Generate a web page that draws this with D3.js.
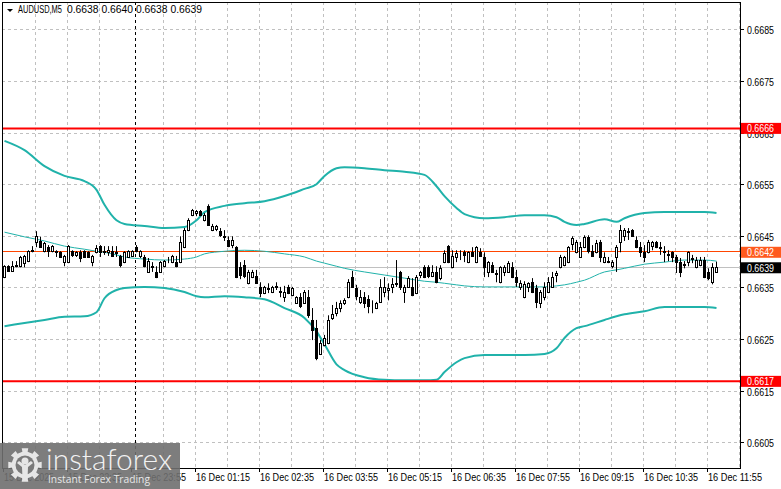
<!DOCTYPE html>
<html><head><meta charset="utf-8">
<script src="https://cdn.jsdelivr.net/npm/d3@7"></script>
<style>body{margin:0;background:#fff;}svg{display:block;font-family:"Liberation Sans",Arial,sans-serif;}</style>
</head><body><svg id="c" width="781" height="489"></svg>
<script>
// ---- data ----
const symbolTitle = "AUDUSD,M5";
const titleQuote = "0.6638 0.6640 0.6638 0.6639";
const xTickBars = [0,16,32,48,64,80,96,112,128,144,160,176];
const xTickLabels = ["15 Dec 2025","15 Dec 22:35","15 Dec 23:55","16 Dec 01:15","16 Dec 02:35","16 Dec 03:55","16 Dec 05:15","16 Dec 06:35","16 Dec 07:55","16 Dec 09:15","16 Dec 10:35","16 Dec 11:55"];
const daySeparatorBar = 33;
const yTicks = [0.6605,0.6615,0.6625,0.6635,0.6645,0.6655,0.6665,0.6675,0.6685];
const levelLines = [0.6666, 0.6617];
const askPrice = 0.6642;
const bidPrice = 0.6639;
// candles: [open, high, low, close]
const candles = [
[0.66370,0.66393,0.66368,0.66391],[0.66391,0.66393,0.66380,0.66382],[0.66382,0.66401,0.66380,0.66391],[0.66391,0.66401,0.66389,0.66393],
[0.66391,0.66411,0.66389,0.66409],[0.66397,0.66413,0.66389,0.66411],[0.66401,0.66422,0.66399,0.66420],[0.66420,0.66430,0.66418,0.66422],
[0.66438,0.66459,0.66428,0.66449],[0.66440,0.66448,0.66428,0.66428],[0.66420,0.66438,0.66418,0.66436],[0.66428,0.66432,0.66409,0.66420],
[0.66420,0.66432,0.66418,0.66430],[0.66420,0.66422,0.66409,0.66418],[0.66418,0.66420,0.66407,0.66409],[0.66399,0.66413,0.66391,0.66411],
[0.66399,0.66432,0.66397,0.66430],[0.66420,0.66422,0.66409,0.66413],[0.66413,0.66420,0.66409,0.66418],[0.66418,0.66422,0.66399,0.66407],
[0.66420,0.66422,0.66409,0.66409],[0.66418,0.66420,0.66407,0.66409],[0.66399,0.66413,0.66391,0.66411],[0.66418,0.66432,0.66416,0.66426],
[0.66430,0.66432,0.66409,0.66418],[0.66420,0.66430,0.66413,0.66418],[0.66418,0.66430,0.66411,0.66422],[0.66420,0.66430,0.66409,0.66411],
[0.66418,0.66430,0.66409,0.66416],[0.66411,0.66413,0.66389,0.66393],[0.66399,0.66420,0.66397,0.66418],[0.66409,0.66422,0.66407,0.66420],
[0.66411,0.66422,0.66409,0.66420],[0.66428,0.66432,0.66418,0.66420],[0.66411,0.66422,0.66407,0.66420],[0.66409,0.66413,0.66389,0.66391],
[0.66380,0.66407,0.66378,0.66401],[0.66391,0.66399,0.66380,0.66389],[0.66380,0.66391,0.66368,0.66370],[0.66380,0.66401,0.66378,0.66399],
[0.66391,0.66403,0.66389,0.66401],[0.66401,0.66409,0.66397,0.66401],[0.66399,0.66413,0.66397,0.66411],[0.66399,0.66411,0.66389,0.66391],
[0.66399,0.66449,0.66397,0.66438],[0.66428,0.66465,0.66426,0.66461],[0.66461,0.66484,0.66459,0.66480],[0.66490,0.66502,0.66488,0.66500],
[0.66494,0.66500,0.66488,0.66498],[0.66498,0.66500,0.66488,0.66490],[0.66480,0.66494,0.66478,0.66490],[0.66508,0.66511,0.66469,0.66471],
[0.66461,0.66473,0.66459,0.66469],[0.66463,0.66471,0.66459,0.66469],[0.66459,0.66465,0.66448,0.66451],[0.66449,0.66461,0.66440,0.66448],
[0.66442,0.66449,0.66428,0.66430],[0.66432,0.66449,0.66426,0.66442],[0.66428,0.66430,0.66368,0.66370],[0.66389,0.66399,0.66366,0.66374],
[0.66393,0.66403,0.66368,0.66372],[0.66358,0.66384,0.66356,0.66380],[0.66370,0.66384,0.66368,0.66380],[0.66372,0.66384,0.66358,0.66358],
[0.66351,0.66360,0.66331,0.66339],[0.66339,0.66353,0.66337,0.66351],[0.66347,0.66358,0.66339,0.66349],[0.66341,0.66353,0.66339,0.66351],
[0.66351,0.66360,0.66345,0.66353],[0.66343,0.66351,0.66331,0.66341],[0.66331,0.66353,0.66322,0.66341],[0.66351,0.66355,0.66337,0.66339],
[0.66335,0.66351,0.66333,0.66349],[0.66320,0.66333,0.66318,0.66331],[0.66331,0.66339,0.66310,0.66314],[0.66320,0.66345,0.66318,0.66341],
[0.66331,0.66345,0.66291,0.66296],[0.66287,0.66310,0.66248,0.66267],[0.66271,0.66287,0.66209,0.66213],[0.66221,0.66248,0.66219,0.66242],
[0.66238,0.66258,0.66236,0.66252],[0.66242,0.66296,0.66240,0.66287],[0.66291,0.66316,0.66287,0.66298],[0.66300,0.66322,0.66294,0.66310],
[0.66310,0.66325,0.66302,0.66320],[0.66320,0.66329,0.66316,0.66325],[0.66331,0.66366,0.66329,0.66360],[0.66370,0.66382,0.66349,0.66351],
[0.66349,0.66355,0.66325,0.66333],[0.66322,0.66345,0.66318,0.66331],[0.66331,0.66341,0.66310,0.66320],[0.66327,0.66335,0.66300,0.66314],
[0.66316,0.66325,0.66300,0.66315],[0.66310,0.66322,0.66308,0.66320],[0.66322,0.66366,0.66320,0.66351],[0.66341,0.66370,0.66331,0.66351],
[0.66345,0.66358,0.66325,0.66349],[0.66351,0.66368,0.66339,0.66356],[0.66358,0.66403,0.66351,0.66357],[0.66380,0.66382,0.66345,0.66351],
[0.66341,0.66355,0.66320,0.66351],[0.66351,0.66372,0.66349,0.66368],[0.66351,0.66368,0.66333,0.66335],[0.66339,0.66374,0.66337,0.66370],
[0.66374,0.66382,0.66368,0.66380],[0.66389,0.66393,0.66368,0.66370],[0.66389,0.66393,0.66368,0.66372],[0.66372,0.66393,0.66370,0.66380],
[0.66380,0.66391,0.66358,0.66360],[0.66368,0.66393,0.66364,0.66387],[0.66399,0.66422,0.66397,0.66416],[0.66430,0.66432,0.66397,0.66399],
[0.66389,0.66422,0.66387,0.66411],[0.66409,0.66422,0.66399,0.66416],[0.66413,0.66422,0.66403,0.66412],[0.66418,0.66422,0.66399,0.66413],
[0.66399,0.66420,0.66397,0.66418],[0.66418,0.66428,0.66409,0.66411],[0.66399,0.66430,0.66397,0.66428],[0.66418,0.66426,0.66409,0.66411],
[0.66409,0.66418,0.66370,0.66389],[0.66380,0.66401,0.66370,0.66399],[0.66393,0.66399,0.66378,0.66380],[0.66378,0.66384,0.66360,0.66376],
[0.66360,0.66391,0.66358,0.66389],[0.66380,0.66393,0.66372,0.66389],[0.66380,0.66401,0.66378,0.66397],[0.66389,0.66399,0.66368,0.66370],
[0.66370,0.66384,0.66351,0.66360],[0.66351,0.66364,0.66345,0.66358],[0.66331,0.66362,0.66329,0.66356],[0.66351,0.66360,0.66341,0.66358],
[0.66360,0.66368,0.66339,0.66341],[0.66349,0.66355,0.66310,0.66322],[0.66320,0.66345,0.66310,0.66341],[0.66331,0.66360,0.66325,0.66351],
[0.66341,0.66370,0.66339,0.66360],[0.66351,0.66380,0.66349,0.66370],[0.66374,0.66382,0.66360,0.66378],[0.66389,0.66413,0.66387,0.66409],
[0.66393,0.66411,0.66391,0.66409],[0.66399,0.66430,0.66397,0.66428],[0.66434,0.66449,0.66422,0.66446],[0.66418,0.66442,0.66416,0.66438],
[0.66409,0.66438,0.66407,0.66428],[0.66428,0.66451,0.66426,0.66448],[0.66448,0.66451,0.66416,0.66420],[0.66420,0.66432,0.66409,0.66411],
[0.66418,0.66442,0.66416,0.66436],[0.66438,0.66442,0.66399,0.66409],[0.66399,0.66418,0.66397,0.66409],[0.66401,0.66409,0.66397,0.66399],
[0.66391,0.66403,0.66387,0.66399],[0.66409,0.66432,0.66380,0.66428],[0.66438,0.66471,0.66418,0.66461],[0.66449,0.66465,0.66440,0.66461],
[0.66457,0.66465,0.66442,0.66459],[0.66461,0.66463,0.66448,0.66449],[0.66442,0.66449,0.66426,0.66428],[0.66428,0.66438,0.66409,0.66418],
[0.66418,0.66432,0.66399,0.66409],[0.66418,0.66442,0.66416,0.66438],[0.66430,0.66440,0.66422,0.66438],[0.66438,0.66440,0.66426,0.66428],
[0.66428,0.66438,0.66413,0.66426],[0.66420,0.66430,0.66399,0.66418],[0.66414,0.66422,0.66401,0.66413],[0.66418,0.66420,0.66399,0.66409],
[0.66409,0.66413,0.66378,0.66399],[0.66399,0.66407,0.66370,0.66380],[0.66393,0.66401,0.66387,0.66395],[0.66399,0.66420,0.66391,0.66418],
[0.66407,0.66413,0.66397,0.66405],[0.66389,0.66409,0.66387,0.66403],[0.66393,0.66409,0.66391,0.66403],[0.66403,0.66409,0.66368,0.66370],
[0.66380,0.66387,0.66364,0.66368],[0.66360,0.66397,0.66356,0.66389],[0.66380,0.66400,0.66380,0.66390]
];
// Bollinger bands read at these bar indices
const bandBars = [0,5,10,15,20,23,25,28,30,35,40,45,48,50,55,60,65,70,75,78,80,83,85,90,95,100,105,108,110,113,115,120,125,130,135,138,140,143,145,150,153,155,160,165,170,175,178];
const bandUpper = [0.66634,0.66616,0.66585,0.66566,0.66556,0.66539,0.66510,0.66480,0.66473,0.66469,0.66465,0.66467,0.66480,0.66496,0.66508,0.66513,0.66517,0.66527,0.66541,0.66550,0.66566,0.66581,0.66583,0.66581,0.66577,0.66574,0.66568,0.66546,0.66527,0.66504,0.66492,0.66484,0.66486,0.66490,0.66490,0.66486,0.66477,0.66471,0.66473,0.66482,0.66477,0.66484,0.66494,0.66496,0.66496,0.66496,0.66494];
const bandMiddle = [0.66457,0.66448,0.66440,0.66430,0.66424,0.66420,0.66418,0.66413,0.66409,0.66405,0.66403,0.66405,0.66409,0.66415,0.66420,0.66422,0.66420,0.66415,0.66409,0.66401,0.66397,0.66391,0.66387,0.66380,0.66374,0.66368,0.66362,0.66360,0.66358,0.66355,0.66353,0.66351,0.66351,0.66351,0.66351,0.66353,0.66355,0.66360,0.66364,0.66380,0.66384,0.66387,0.66395,0.66399,0.66403,0.66403,0.66401];
const bandLower = [0.66275,0.66281,0.66287,0.66293,0.66294,0.66302,0.66329,0.66345,0.66349,0.66351,0.66349,0.66341,0.66333,0.66331,0.66333,0.66331,0.66327,0.66310,0.66291,0.66265,0.66240,0.66201,0.66190,0.66176,0.66171,0.66170,0.66170,0.66171,0.66186,0.66205,0.66213,0.66219,0.66219,0.66219,0.66221,0.66232,0.66252,0.66271,0.66275,0.66287,0.66294,0.66298,0.66304,0.66312,0.66312,0.66312,0.66310];

// ---- layout ----
const svg = d3.select("#c");
const L = 2, R = 740, T = 2, B = 468;
const x = d3.scaleLinear().domain([0, 178]).range([3, 715]);
const y = d3.scaleLinear().domain([0.6605, 0.6685]).range([442.3, 29.3]);
const fmt = d3.format(".4f");
const teal = "#20b2aa";

svg.append("rect").attr("width",781).attr("height",489).attr("fill","#fff");

// grid
const grid = svg.append("g").attr("stroke","#c0c0c0").attr("stroke-dasharray","3,3").attr("stroke-width",1);
for (let b = 8; b <= 184; b += 8) {
  if (b === 32) continue;
  const gx = Math.round(x(b)) + 0.5;
  if (gx >= R) break;
  grid.append("line").attr("x1",gx).attr("x2",gx).attr("y1",T).attr("y2",B);
}
yTicks.forEach(v => {
  const gy = Math.round(y(v)) + 0.5;
  grid.append("line").attr("x1",L).attr("x2",R).attr("y1",gy).attr("y2",gy);
});
// day separator
const sx = Math.round(x(daySeparatorBar)) + 0.5;
svg.append("line").attr("x1",sx).attr("x2",sx).attr("y1",T).attr("y2",B)
  .attr("stroke","#000").attr("stroke-dasharray","3,3");

// price lines
svg.append("line").attr("x1",L).attr("x2",R).attr("y1",Math.round(y(bidPrice))+0.5).attr("y2",Math.round(y(bidPrice))+0.5)
  .attr("stroke","#c0c0c0");
svg.append("line").attr("x1",L).attr("x2",R).attr("y1",Math.round(y(askPrice))+0.5).attr("y2",Math.round(y(askPrice))+0.5)
  .attr("stroke","#ff4500");

// bands
const bandLine = arr => d3.line().x((d,i)=>x(bandBars[i])+1.5).y(d=>y(d)).curve(d3.curveMonotoneX)(arr);
svg.append("path").attr("d",bandLine(bandUpper)).attr("fill","none").attr("stroke",teal).attr("stroke-width",2);
svg.append("path").attr("d",bandLine(bandLower)).attr("fill","none").attr("stroke",teal).attr("stroke-width",2);
svg.append("path").attr("d",bandLine(bandMiddle)).attr("fill","none").attr("stroke",teal).attr("stroke-width",1);

// candles
const cg = svg.append("g");
candles.forEach((c,i) => {
  const [o,h,l,cl] = c;
  const cx = Math.round(x(i));
  cg.append("line").attr("x1",cx+1.5).attr("x2",cx+1.5).attr("y1",y(h)).attr("y2",y(l)).attr("stroke","#000");
  const top = Math.round(y(Math.max(o,cl))), bot = Math.round(y(Math.min(o,cl)));
  cg.append("rect").attr("x",cx+0.5).attr("y",top+0.5).attr("width",2).attr("height",Math.max(bot-top,0))
    .attr("fill", cl >= o ? "#fff" : "#000").attr("stroke","#000");
});

// level lines
levelLines.forEach(v => {
  svg.append("line").attr("x1",L).attr("x2",R).attr("y1",y(v)+1).attr("y2",y(v)+1)
    .attr("stroke","#ff0000").attr("stroke-width",2);
});

// frame
svg.append("rect").attr("x",L+0.5).attr("y",T+0.5).attr("width",R-L).attr("height",B-T)
  .attr("fill","none").attr("stroke","#000");

// y axis ticks & labels
yTicks.forEach(v => {
  const ty = Math.round(y(v)) + 0.5;
  svg.append("line").attr("x1",R).attr("x2",R+4).attr("y1",ty).attr("y2",ty).attr("stroke","#000");
  svg.append("text").attr("x",747).attr("y",ty+4).attr("font-size",10).attr("fill","#000")
    .attr("textLength",27).attr("lengthAdjust","spacingAndGlyphs").text(fmt(v));
});
// price boxes
const boxes = [
  {v: levelLines[0], fill: "#ff0000"},
  {v: askPrice, fill: "#ff5a1e"},
  {v: bidPrice, fill: "#000000"},
  {v: levelLines[1], fill: "#ff0000"}
];
boxes.forEach(bx => {
  const by = y(bx.v) + 1;
  svg.append("rect").attr("x",741).attr("y",by-5.5).attr("width",40).attr("height",11).attr("fill",bx.fill);
  svg.append("text").attr("x",747).attr("y",by+4).attr("font-size",10).attr("fill","#fff")
    .attr("textLength",27).attr("lengthAdjust","spacingAndGlyphs").text(fmt(bx.v));
});

// x axis ticks & labels
xTickBars.forEach((b,k) => {
  const tx = Math.round(x(b)) + 0.5;
  svg.append("line").attr("x1",tx).attr("x2",tx).attr("y1",B).attr("y2",B+4).attr("stroke","#000");
  svg.append("text").attr("x",tx+0.5).attr("y",481).attr("font-size",10).attr("fill","#000")
    .attr("textLength", k===0 ? 50 : 54).attr("lengthAdjust","spacingAndGlyphs").text(xTickLabels[k]);
});

// title
svg.append("path").attr("d","M7,9 L13,9 L10,12 Z").attr("fill","#000");
svg.append("text").attr("x",18).attr("y",13).attr("font-size",10).attr("fill","#000")
  .attr("textLength",44).attr("lengthAdjust","spacingAndGlyphs").text(symbolTitle);
svg.append("text").attr("x",67).attr("y",13).attr("font-size",10).attr("fill","#000")
  .attr("textLength",135).attr("lengthAdjust","spacingAndGlyphs").text(titleQuote);

// watermark
const wm = svg.append("g");
wm.append("rect").attr("x",0).attr("y",443).attr("width",180).attr("height",46).attr("fill","#6f6f6f").attr("opacity",0.9);
const gcx = 25, gcy = 465;
const teeth = 8, rO = 17, rI = 13.5;
let gp = "";
for (let k = 0; k < teeth * 2; k++) {
  const a0 = (k / (teeth*2)) * 2*Math.PI - Math.PI/2 - Math.PI/(teeth*2);
  const a1 = ((k+1) / (teeth*2)) * 2*Math.PI - Math.PI/2 - Math.PI/(teeth*2);
  const r = k % 2 === 0 ? rO : rI;
  gp += (k===0 ? "M" : "L") + (gcx + r*Math.cos(a0)).toFixed(1) + "," + (gcy + r*Math.sin(a0)).toFixed(1);
  gp += "L" + (gcx + r*Math.cos(a1)).toFixed(1) + "," + (gcy + r*Math.sin(a1)).toFixed(1);
}
gp += "Z";
wm.append("path").attr("d",gp).attr("fill","#e6e6e6");
wm.append("circle").attr("cx",gcx).attr("cy",gcy).attr("r",9.5).attr("fill","#7a7a7a");
wm.append("circle").attr("cx",gcx).attr("cy",gcy-4).attr("r",3.5).attr("fill","#e6e6e6");
wm.append("path").attr("d",`M${gcx-8},${gcy-2} L${gcx-3},${gcy+2} L${gcx-2.5},${gcy+14} L${gcx+2.5},${gcy+14} L${gcx+3},${gcy+2} L${gcx+8},${gcy-2} L${gcx+6},${gcy-4} L${gcx},${gcy} L${gcx-6},${gcy-4} Z`).attr("fill","#e6e6e6");
wm.append("text").attr("x",46).attr("y",470).attr("font-family","Lato, 'Open Sans', sans-serif").attr("font-weight",300)
  .attr("font-size",30).attr("fill","#f2f2f2").attr("textLength",126).attr("lengthAdjust","spacingAndGlyphs").text("instaforex");
wm.append("text").attr("x",48).attr("y",483).attr("font-family","'Open Sans', sans-serif")
  .attr("font-size",11).attr("fill","#e8e8e8").attr("textLength",102).attr("lengthAdjust","spacingAndGlyphs").text("Instant Forex Trading");
</script>
</body></html>
